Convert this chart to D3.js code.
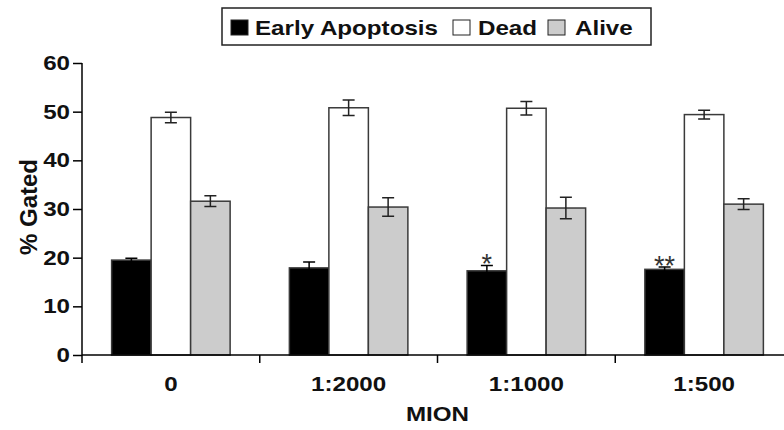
<!DOCTYPE html>
<html>
<head>
<meta charset="utf-8">
<script src="https://cdn.jsdelivr.net/npm/d3@7"></script>
<style>
  body { margin: 0; background: #fff; }
  svg { display: block; font-family: "Liberation Sans", Arial, sans-serif; }
  .lbl { font-size: 21px; font-weight: bold; fill: #111; }
</style>
</head>
<body>
<svg id="chart" width="784" height="430"></svg>
<script>
const groups = ['0', '1:2000', '1:1000', '1:500']
const seriesNames = ['Early Apoptosis', 'Dead', 'Alive']
const earlyApoptosis = [19.5, 17.9, 17.3, 17.6]
const earlyErr = [0.4, 1.2, 1.1, 0.5]
const dead = [48.8, 50.8, 50.7, 49.4]
const deadErr = [1.1, 1.6, 1.4, 0.9]
const alive = [31.6, 30.4, 30.2, 31.0]
const aliveErr = [1.1, 1.9, 2.2, 1.1]
const stars = ['', '', '*', '**']
const yTicks = [0, 10, 20, 30, 40, 50, 60]

const fills = ['#000000', '#ffffff', '#cccccc']
const values = [earlyApoptosis, dead, alive]
const errs = [earlyErr, deadErr, aliveErr]

const margin = {top: 63, left: 82}
const innerWidth = 711
const innerHeight = 292

// the original lettering is a bit wider than Arial, so widen it a little
function stretch(sel, k) {
    sel.each(function () {
        const w = this.getComputedTextLength()
        d3.select(this).attr('textLength', w * k).attr('lengthAdjust', 'spacingAndGlyphs')
    })
}

const svg = d3.select('#chart')
const g = svg.append('g').attr('transform', `translate(${margin.left},${margin.top})`)

const yScale = d3.scaleLinear().domain([0, 60]).range([innerHeight, 0])
const x0 = d3.scaleBand().domain(groups).range([0, innerWidth]).padding(0)
const x1 = d3.scaleBand().domain(seriesNames)
    .range([x0.bandwidth() / 6, x0.bandwidth() * 5 / 6]).padding(0)

// bars
const rows = []
groups.forEach((grp, i) => {
    seriesNames.forEach((s, j) => {
        rows.push({grp, s, j, v: values[j][i], e: errs[j][i], star: j === 0 ? stars[i] : ''})
    })
})

const bar = g.selectAll('.bar').data(rows).join('g')
    .attr('class', 'bar')
    .attr('transform', d => `translate(${x0(d.grp) + x1(d.s)},0)`)

bar.append('rect')
    .attr('x', 0)
    .attr('y', d => yScale(d.v))
    .attr('width', x1.bandwidth())
    .attr('height', d => innerHeight - yScale(d.v))
    .attr('fill', d => fills[d.j])
    .attr('stroke', '#3a3a3a')
    .attr('stroke-width', 1.5)

// error bars
const cx = x1.bandwidth() / 2
const cap = 6
bar.append('path')
    .attr('d', d => {
        const t = yScale(d.v + d.e), b = yScale(d.v - d.e)
        return `M${cx},${t}V${b}M${cx - cap},${t}H${cx + cap}M${cx - cap},${b}H${cx + cap}`
    })
    .attr('stroke', d => d.j === 0 ? '#000' : '#222')
    .attr('stroke-width', 1.5)
    .attr('fill', 'none')

bar.filter(d => d.star).append('text')
    .attr('x', cx)
    .attr('y', d => yScale(d.v + d.e) + 8)
    .attr('text-anchor', 'middle')
    .style('font-size', '27px')
    .style('fill', '#333')
    .text(d => d.star)

// y axis (lines from d3.axisLeft, labels placed from the same scale)
const yAxis = g.append('g')
    .call(d3.axisLeft(yScale).tickValues(yTicks).tickSize(9).tickFormat(''))
yAxis.select('.domain').attr('stroke-width', 1.5).attr('d', `M0,0V${innerHeight}`)
yAxis.selectAll('.tick line').attr('stroke-width', 1.5)

g.selectAll('.ylab').data(yTicks).join('text')
    .attr('class', 'ylab lbl')
    .attr('x', -12)
    .attr('y', d => yScale(d) + 7)
    .attr('text-anchor', 'end')
    .text(d => d)
    .call(stretch, 1.15)

// x axis
const xAxis = g.append('g')
    .attr('transform', `translate(0,${innerHeight})`)
    .call(d3.axisBottom(x0).tickSize(0).tickFormat(''))
xAxis.select('.domain').attr('stroke-width', 1.5).attr('d', `M0,0H${innerWidth}`)

xAxis.selectAll('.sep').data(groups).join('line')
    .attr('class', 'sep')
    .attr('x1', d => x0(d)).attr('x2', d => x0(d))
    .attr('y1', 0).attr('y2', 8)
    .attr('stroke', '#000')
    .attr('stroke-width', 1.5)

g.selectAll('.xlab').data(groups).join('text')
    .attr('class', 'xlab lbl')
    .attr('x', d => x0(d) + x0.bandwidth() / 2)
    .attr('y', innerHeight + 36)
    .attr('text-anchor', 'middle')
    .text(d => d)
    .call(stretch, 1.15)

g.append('text')
    .attr('class', 'lbl')
    .attr('x', innerWidth / 2)
    .attr('y', innerHeight + 66)
    .attr('text-anchor', 'middle')
    .text('MION')
    .call(stretch, 1.15)

g.append('text')
    .attr('class', 'lbl')
    .attr('transform', `translate(-45,${innerHeight / 2 - 2}) rotate(-90)`)
    .attr('text-anchor', 'middle')
    .style('font-size', '24px')
    .text('% Gated')

// legend
const legend = svg.append('g').attr('transform', 'translate(222,8)')
legend.append('rect')
    .attr('width', 429).attr('height', 37)
    .attr('fill', '#fff').attr('stroke', '#222').attr('stroke-width', 1.5)

const squareX = [9, 231, 326]
const labelX = [33, 256, 353]
seriesNames.forEach((s, j) => {
    legend.append('rect')
        .attr('x', squareX[j]).attr('y', 12)
        .attr('width', 17).attr('height', 15)
        .attr('fill', fills[j]).attr('stroke', '#222').attr('stroke-width', 1)
    legend.append('text')
        .attr('class', 'lbl')
        .attr('x', labelX[j]).attr('y', 27)
        .text(s)
        .call(stretch, 1.15)
})
</script>
</body>
</html>
